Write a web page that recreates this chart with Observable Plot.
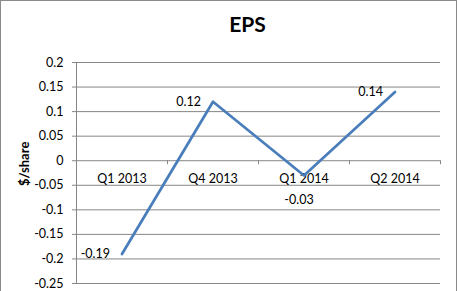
<!DOCTYPE html>
<html><head><meta charset="utf-8">
<script src="https://cdn.jsdelivr.net/npm/d3@7"></script>
<script src="https://cdn.jsdelivr.net/npm/@observablehq/plot@0.6"></script>
<style>
body{margin:0;background:#fff;}
#wrap{position:relative;width:458px;height:291px;overflow:hidden;}
#border{position:absolute;left:0;top:0;width:457px;height:300px;border:1px solid #8a8a8a;box-sizing:border-box;}
#wrap svg{position:absolute;left:0;top:0;}
</style></head><body><div id="wrap"><div id="border"></div></div>
<script>
const title = "EPS";
const yLabel = "$/share";
const quarters = ["Q1 2013", "Q4 2013", "Q1 2014", "Q2 2014"];
const eps = [-0.19, 0.12, -0.03, 0.14];
const valueLabels = ["-0.19", "0.12", "-0.03", "0.14"];
const yTicks = [-0.25, -0.2, -0.15, -0.1, -0.05, 0, 0.05, 0.1, 0.15, 0.2];
const yTickLabels = ["-0.25", "-0.2", "-0.15", "-0.1", "-0.05", "0", "0.05", "0.1", "0.15", "0.2"];

const data = quarters.map((q, i) => ({q, i, x: i + 0.5, v: eps[i], label: valueLabels[i]}));
const boundaries = quarters.map((q, i) => ({b: i + 1}));
const font = "Lato, 'Open Sans', sans-serif";
const gray = "#868686";

const chart = Plot.plot({
  width: 458, height: 291,
  marginLeft: 76, marginRight: 18, marginTop: 62, marginBottom: 8,
  style: {fontFamily: font, fontSize: "12.5px", color: "#000", background: "transparent", overflow: "visible"},
  x: {type: "linear", domain: [0, quarters.length], axis: null},
  y: {domain: [-0.25, 0.2], axis: null},
  marks: [
    Plot.ruleY(yTicks, {x1: 0, x2: quarters.length, stroke: gray, strokeOpacity: 1, insetLeft: -4}),
    Plot.ruleX([0], {y1: -0.25, y2: 0.2, stroke: gray}),
    Plot.ruleX(boundaries, {x: "b", y1: 0, y2: 0, insetBottom: -4, stroke: gray}),
    Plot.text(yTicks, {x: 0, y: d => d, text: (d, i) => yTickLabels[i], textAnchor: "end", dx: -13, fill: "#000", fontSize: 12.5}),
    Plot.text(data, {x: "x", y: 0, text: "q", dy: 18, fill: "#000", fontSize: 12.5}),
    Plot.line(data, {x: "x", y: "v", stroke: "#4a7ebb", strokeWidth: 2.75}),
    Plot.text(data.filter(d => d.i !== 2), {x: "x", y: "v", text: "label", textAnchor: "end", dx: -12, fill: "#000", fontSize: 12.5}),
    Plot.text(data.filter(d => d.i === 2), {x: "x", y: "v", text: "label", dx: -5, dy: 25, fill: "#000", fontSize: 12.5}),
    Plot.text([yLabel], {frameAnchor: "left", rotate: -90, dx: -52, dy: 13, text: d => d, fontWeight: "bold", fill: "#000", fontSize: 13}),
    Plot.text([title], {frameAnchor: "top", dy: -45, dx: -11, text: d => d, fontWeight: "bold", fill: "#000", fontSize: 21})
  ]
});
document.getElementById("wrap").appendChild(chart);
</script></body></html>
